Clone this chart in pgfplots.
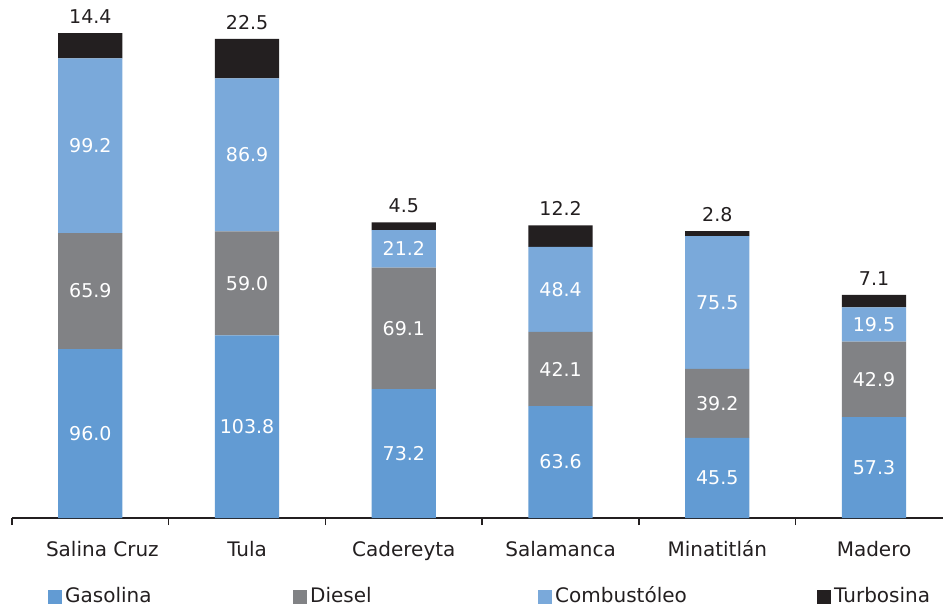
\documentclass[border=0pt]{standalone}
\usepackage{fontspec}
\setmainfont{DejaVu Sans}
\usepackage{pgfplots}
\pgfplotsset{compat=1.18}
\definecolor{cGas}{HTML}{629BD3}
\definecolor{cDie}{HTML}{818285}
\definecolor{cCom}{HTML}{7AA9DA}
\definecolor{cTur}{HTML}{231F20}
\definecolor{txt}{HTML}{231F20}
\makeatletter
\pgfplotsset{
  calculate offset/.code={%
    \pgfkeys{/pgf/fpu=true,/pgf/fpu/output format=fixed}%
    \pgfmathsetmacro\testmacro{(\pgfplotspointmeta*10^\pgfplots@data@scale@trafo@EXPONENT@y)*\pgfplots@y@veclength}%
    \pgfkeys{/pgf/fpu=false}%
  },
  centered labels/.style={
    nodes near coords={\pgfmathprintnumber[fixed,fixed zerofill,precision=1]{\pgfplotspointmeta}},
    every node near coord/.style={
      anchor=center,
      text=white, font=\fontsize{19}{22}\selectfont
    },
  },
  top labels/.style={
    nodes near coords={\pgfmathprintnumber[fixed,fixed zerofill,precision=1]{\pgfplotspointmeta}},
    every node near coord/.style={
      /pgfplots/calculate offset, anchor=south, yshift={\testmacro/2+6},
      text=txt, font=\fontsize{19}{22}\selectfont
    },
  },
}
\makeatother
\begin{document}
\begin{tikzpicture}
\begin{axis}[
  name=ax,
  scale only axis,
  width=931pt, height=518pt,
  xmin=-0.5, xmax=5.44,
  ymin=0, ymax=294.3,
  ybar stacked,
  bar width=0.41,
  axis x line*=bottom,
  axis y line=none,
  x axis line style={draw=txt, line width=1.5pt},
  xtick={0,1,2,3,4,5},
  xticklabels={\hspace*{24pt}Salina Cruz,Tula,Cadereyta,Salamanca,Minatitlán,Madero},
  major tick length=0pt,
  xticklabel style={font=\fontsize{20}{24}\selectfont, text=txt, yshift=-20pt, text height=15pt, text depth=4pt},
  extra x ticks={-0.5,0.5,1.5,2.5,3.5,4.5},
  extra x tick labels={},
  extra x tick style={major tick length=7pt, tick align=outside, tick style={draw=txt, line width=1.5pt}},
  /pgf/number format/assume math mode=true,
  clip=false,
  legend columns=4,
  legend style={draw=none, fill=none, at={(0,0)}, anchor=west, xshift=36pt, yshift=-79pt,
    inner sep=0pt, nodes={inner sep=0pt, anchor=west, text height=15pt, text depth=4pt}, column sep=0pt,
    font=\fontsize{20}{24}\selectfont, text=txt},
  legend image code/.code={\fill[#1] (0pt,-7pt) rectangle (14pt,7pt);},
]
\addplot[fill=cGas, draw=none, centered labels] coordinates {(0,96.0) (1,103.8) (2,73.2) (3,63.6) (4,45.5) (5,57.3)};
\addlegendentry{\makebox[231pt][l]{\hspace{3pt}Gasolina}}
\addplot[fill=cDie, draw=none, centered labels] coordinates {(0,65.9) (1,59.0) (2,69.1) (3,42.1) (4,39.2) (5,42.9)};
\addlegendentry{\makebox[231pt][l]{\hspace{3pt}Diesel}}
\addplot[fill=cCom, draw=none, centered labels] coordinates {(0,99.2) (1,86.9) (2,21.2) (3,48.4) (4,75.5) (5,19.5)};
\addlegendentry{\makebox[265pt][l]{\hspace{3pt}Combustóleo}}
\addplot[fill=cTur, draw=none, top labels]
  coordinates {(0,14.4) (1,22.5) (2,4.5) (3,12.2) (4,2.8) (5,7.1)};
\addlegendentry{\hspace{3pt}Turbosina}
\end{axis}
\pgfresetboundingbox
\path[use as bounding box] (ax.south west) ++(-12pt,-90pt) rectangle ++(943pt,608pt);
\end{tikzpicture}
\end{document}
